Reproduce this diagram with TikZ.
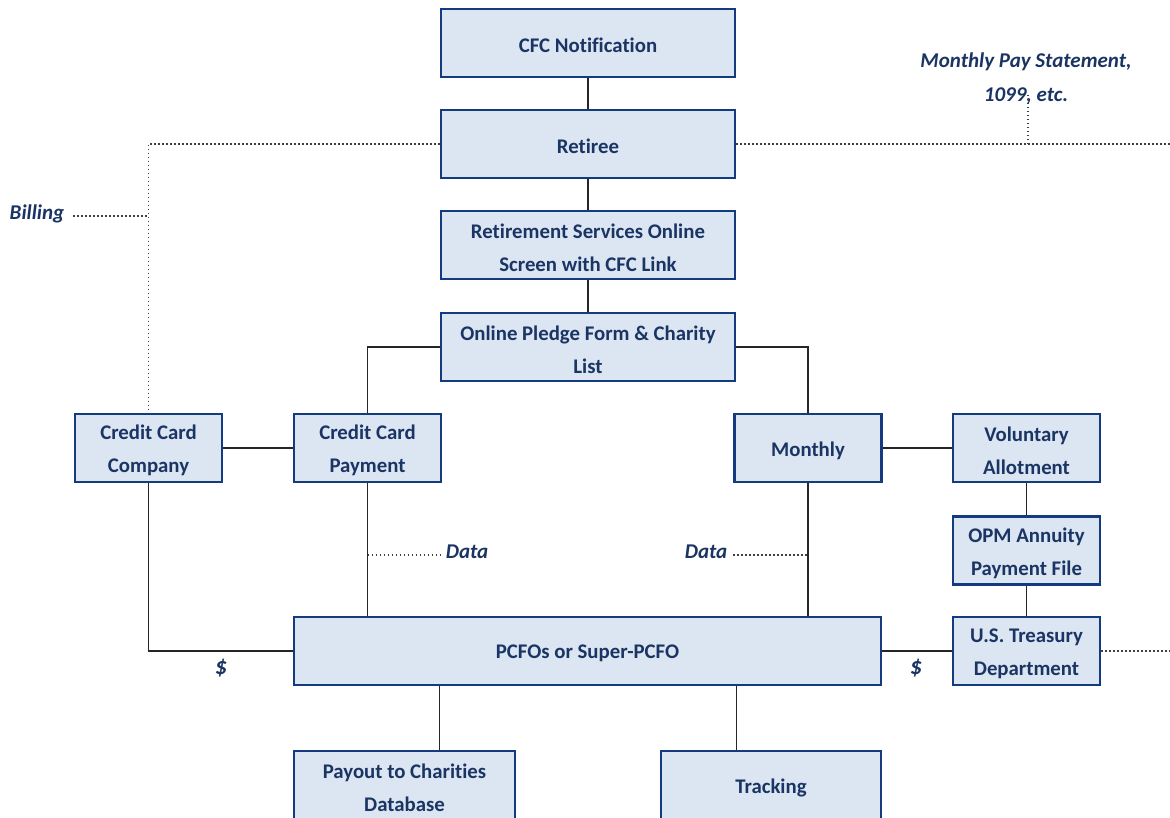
\documentclass[tikz,border=0pt]{standalone}
\usepackage{fontspec}
\setmainfont{Carlito}[Ligatures={NoCommon}]
\definecolor{navy}{RGB}{26,52,100}
\definecolor{boxfill}{RGB}{220,230,242}
\definecolor{boxedge}{RGB}{20,58,128}
\begin{document}
\begin{tikzpicture}[x=1pt,y=-1pt,
 box/.style={draw=boxedge, line width=2.5pt, fill=boxfill, inner sep=0pt, minimum height=68pt},
 boxtxt/.style={text=navy, font=\bfseries\fontsize{20.8}{33}\selectfont, align=center, inner sep=0pt, yshift=-2.5pt},
 txt/.style={label={[boxtxt]center:{#1}}},
 wide/.style={box, minimum width=294pt},
 small/.style={box, minimum width=147pt},
 link/.style={draw=black!85, line width=1.1pt},
 dotline/.style={draw=black!75, line width=1.4pt, dash pattern=on 1.4pt off 2.6pt},
 lab/.style={text=navy, font=\bfseries\itshape\fontsize{21}{34}\selectfont, align=center, inner sep=0pt},
 usd/.style={lab, font=\bfseries\itshape\fontsize{24}{30}\selectfont}]
\useasboundingbox (0,0) rectangle (1170,818);

\node[wide, txt={CFC Notification}] (cfc) at (588,43) {};
\node[wide, txt={Retiree}] (ret) at (588,144) {};
\node[wide, txt={Retirement Services Online\\Screen with CFC Link}] (rso) at (588,245) {};
\node[wide, txt={Online Pledge Form \& Charity\\List}] (pledge) at (588,347) {};
\node[small, txt={Credit Card\\Company}] (ccc) at (148.5,448) {};
\node[small, txt={Credit Card\\Payment}] (ccp) at (367.5,448) {};
\node[small, txt={Monthly}] (mon) at (808,448) {};
\node[small, txt={Voluntary\\Allotment}] (vol) at (1026.5,448) {};
\node[small, txt={OPM Annuity\\Payment File}] (opm) at (1026.5,550.5) {};
\node[small, txt={U.S. Treasury\\Department}] (tre) at (1026.5,651) {};
\node[box, minimum width=587pt, txt={PCFOs or Super-PCFO}] (pcfo) at (587.5,651) {};
\node[box, minimum width=221pt, txt={Payout to Charities\\Database}] (pay) at (404.5,785) {};
\node[box, minimum width=220pt, txt={Tracking}] (track) at (771,785) {};

\node[lab] (billing) at (37,214) {Billing};
\node[lab] (mps) at (1026,79) {Monthly Pay Statement,\\1099, etc.};
\node[lab] (dataL) at (467,552) {Data};
\node[lab] (dataR) at (706,552) {Data};
\node[usd] (usd1) at (221,668) {\$};
\node[usd] (usd2) at (916,668) {\$};

\coordinate (redge) at (1170,144);
\coordinate (tedge) at (1170,651);
\coordinate (mpsj) at (1028,144);

\draw[link] (cfc) -- (ret);
\draw[link] (ret) -- (rso);
\draw[link] (rso) -- (pledge);
\draw[link] (pledge.west) -| (ccp.north);
\draw[link] (pledge.east) -| (mon.north);
\draw[link] (ccc) -- (ccp);
\draw[link] (mon) -- (vol);
\draw[link] (vol) -- (opm);
\draw[link] (opm) -- (tre);
\draw[link] (ccp.south) -- (ccp.south |- pcfo.north);
\draw[link] (mon.south) -- (mon.south |- pcfo.north);
\draw[link] (ccc.south) |- (pcfo.west);
\draw[link] (pcfo.east) -- (tre.west);
\draw[link] (pcfo.south -| ret.west) -- (pay.north -| ret.west);
\draw[link] (pcfo.south -| ret.east) -- (track.north -| ret.east);

\draw[dotline] (ret.west) -| (ccc.north);
\draw[dotline] ([xshift=9pt,yshift=-2pt]billing.east) -- ([yshift=-2pt]billing -| ccc.north);
\draw[dotline] (ret.east) -- (redge);
\draw[dotline] (mpsj) -- ([yshift=12pt]mps.south -| mpsj);
\draw[dotline] (tre.east) -- (tedge);
\draw[dotline] ([yshift=-3pt]dataL -| ccp.south) -- ([xshift=-6pt,yshift=-3pt]dataL.west);
\draw[dotline] ([xshift=6pt,yshift=-3pt]dataR.east) -- ([yshift=-3pt]dataR -| mon.south);
\end{tikzpicture}
\end{document}
